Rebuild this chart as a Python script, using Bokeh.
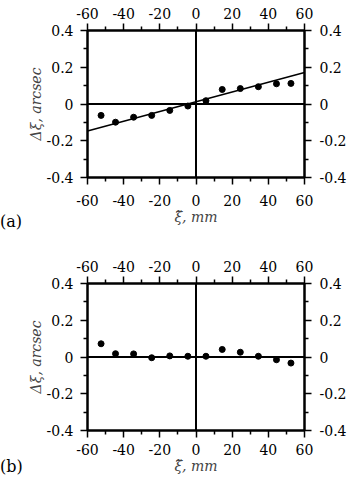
from bokeh.plotting import figure
from bokeh.layouts import column, row
from bokeh.models import LinearAxis, Range1d, Span, FixedTicker, Div
from bokeh.embed import file_html
from bokeh.resources import INLINE

# ---- data ----
xi_a = [-52.5, -44.5, -34.5, -24.5, -14.5, -4.5, 5.5, 14.5, 24.5, 34.5, 44.5, 52.5]
dxi_a = [-0.062, -0.099, -0.072, -0.062, -0.035, -0.011, 0.018, 0.079, 0.084, 0.094, 0.110, 0.112]
fit_x_a = [-60, 60]
fit_y_a = [-0.147, 0.171]

xi_b = [-52.5, -44.5, -34.5, -24.5, -14.5, -4.5, 5.5, 14.5, 24.5, 34.5, 44.5, 52.5]
dxi_b = [0.072, 0.018, 0.017, -0.004, 0.006, 0.004, 0.004, 0.041, 0.026, 0.004, -0.015, -0.033]

x_ticks = [-60, -40, -20, 0, 20, 40, 60]
x_minor = [-50, -30, -10, 10, 30, 50]
y_ticks = [-0.4, -0.2, 0, 0.2, 0.4]
y_minor = [-0.3, -0.1, 0.1, 0.3]
y_tick_labels = ["-0.4", "-0.2", "0", "0.2", "0.4"]
x_tick_labels = ["-60", "-40", "-20", "0", "20", "40", "60"]

FONT = "DejaVu Serif"
TAG_W = 24


def style_axis(ax, ticks, minor, labels, standoff, label=None):
    ax.ticker = FixedTicker(ticks=ticks, minor_ticks=minor)
    ax.major_label_overrides = {t: l for t, l in zip(ticks, labels)}
    ax.major_label_text_font = FONT
    ax.major_label_text_font_size = "14px"
    ax.major_label_text_color = "black"
    ax.major_label_standoff = standoff
    ax.major_tick_out = 7
    ax.major_tick_in = 0
    ax.minor_tick_out = 4
    ax.minor_tick_in = 0
    ax.major_tick_line_width = 1.5
    ax.minor_tick_line_width = 1.5
    ax.axis_line_width = 2
    ax.axis_line_color = "black"
    if label:
        ax.axis_label = label
        ax.axis_label_text_font = FONT
        ax.axis_label_text_font_size = "14px"
        ax.axis_label_text_font_style = "italic"
        ax.axis_label_standoff = 0


def make_panel(xs, ys, fit_x, fit_y, height, top, bottom, xstand, tag, tag_top):
    p = figure(width=349 - TAG_W, height=height,
               x_range=Range1d(-60, 60), y_range=Range1d(-0.4, 0.4),
               output_backend="svg", toolbar_location=None,
               min_border_left=83 - TAG_W, min_border_right=42,
               min_border_top=top, min_border_bottom=bottom, margin=0)
    p.grid.visible = False
    p.outline_line_color = "black"
    p.outline_line_width = 2
    p.background_fill_color = "white"
    p.border_fill_color = "white"

    style_axis(p.xaxis[0], x_ticks, x_minor, x_tick_labels, xstand, "ξ̃, mm")
    style_axis(p.yaxis[0], y_ticks, y_minor, y_tick_labels, 7, "Δξ, arcsec")
    top_ax = LinearAxis()
    style_axis(top_ax, x_ticks, x_minor, x_tick_labels, 5)
    p.add_layout(top_ax, "above")
    right_ax = LinearAxis()
    style_axis(right_ax, y_ticks, y_minor, y_tick_labels, 8)
    p.add_layout(right_ax, "right")

    p.add_layout(Span(location=0, dimension="width", line_color="black", line_width=2))
    p.add_layout(Span(location=0, dimension="height", line_color="black", line_width=2))

    if fit_x is not None:
        p.line(fit_x, fit_y, line_color="black", line_width=1.5)
    p.scatter(xs, ys, size=6, color="black")

    d = Div(text=('<div style="position:relative; top:%dpx; left:0px; '
                  'font-family:\'DejaVu Serif\'; font-size:16px; color:black; '
                  'line-height:18px; white-space:nowrap">%s</div>') % (tag_top, tag),
            width=TAG_W, height=height, margin=0)
    return row(d, p, spacing=0, margin=0)


pa = make_panel(xi_a, dxi_a, fit_x_a, fit_y_a, 240, 30, 63, 10, "(a)", 213)
pb = make_panel(xi_b, dxi_b, None, None, 246, 43, 56, 6, "(b)", 218)

layout = column(pa, pb, spacing=0, margin=0)
open("out.html", "w").write(file_html(layout, INLINE))
